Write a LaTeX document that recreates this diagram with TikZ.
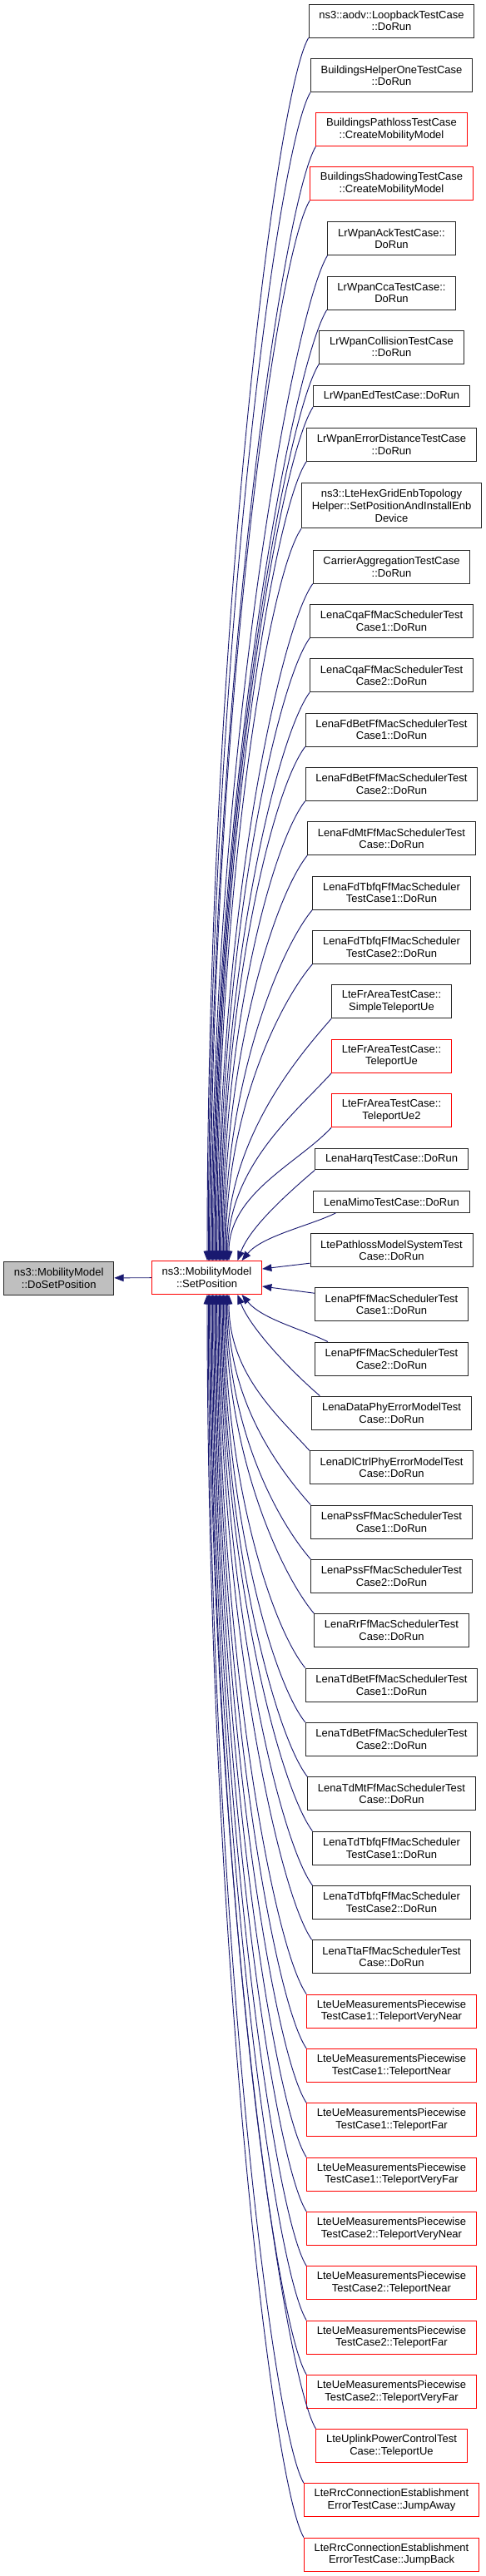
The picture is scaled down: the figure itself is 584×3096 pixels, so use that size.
\documentclass[tikz,border=0pt]{standalone}
\usepackage{fontspec}
\setmainfont{Liberation Sans}
\usetikzlibrary{arrows.meta,calc}
\definecolor{edgeblue}{HTML}{191970}
\definecolor{boxgray}{HTML}{BFBFBF}

\begin{document}
\begin{tikzpicture}[x=0.75pt,y=-0.75pt,
	fnbox/.style={draw=black!85,line width=0.7pt,fill=white,align=center,inner xsep=9.2pt,inner ysep=1pt,minimum height=30pt,font=\fontsize{9.75}{11}\selectfont},
	oneline/.style={minimum height=19.3pt},
	threeline/.style={minimum height=40.7pt},
	redbox/.style={draw=red},
	call/.style={draw=edgeblue,line width=0.7pt,-{Triangle[length=8.5pt,width=6.5pt]}}]
					\useasboundingbox (0,0) rectangle (584,3096);

					\node[fnbox,fill=boxgray] (dosetpos) at (70.7,1536) {ns3::MobilityModel\\::DoSetPosition};
					\node[fnbox,redbox] (setpos) at (248.5,1535.5) {ns3::MobilityModel\\::SetPosition};

					\node[fnbox] (loopback) at (470.5,25) {ns3::aodv::LoopbackTestCase\\::DoRun};
					\node[fnbox] (bhelperone) at (470.5,90.7) {BuildingsHelperOneTestCase\\::DoRun};
					\node[fnbox,redbox] (bpathloss) at (470.5,155.7) {BuildingsPathlossTestCase\\::CreateMobilityModel};
					\node[fnbox,redbox] (bshadowing) at (470.5,220.7) {BuildingsShadowingTestCase\\::CreateMobilityModel};
					\node[fnbox] (wpanack) at (470.5,286.7) {LrWpanAckTestCase::\\DoRun};
					\node[fnbox] (wpancca) at (470.5,352) {LrWpanCcaTestCase::\\DoRun};
					\node[fnbox] (wpancoll) at (470.5,417) {LrWpanCollisionTestCase\\::DoRun};
					\node[fnbox,oneline] (wpaned) at (470.5,476) {LrWpanEdTestCase::DoRun};
					\node[fnbox] (wpanerrdist) at (470.5,534.3) {LrWpanErrorDistanceTestCase\\::DoRun};
					\node[fnbox,threeline] (hexgrid) at (470.5,607.8) {ns3::LteHexGridEnbTopology\\Helper::SetPositionAndInstallEnb\\Device};
					\node[fnbox] (carrieragg) at (470.5,681.2) {CarrierAggregationTestCase\\::DoRun};
					\node[fnbox] (cqaone) at (470.5,746.5) {LenaCqaFfMacSchedulerTest\\Case1::DoRun};
					\node[fnbox] (cqatwo) at (470.5,811.7) {LenaCqaFfMacSchedulerTest\\Case2::DoRun};
					\node[fnbox] (fdbetone) at (470.5,877) {LenaFdBetFfMacSchedulerTest\\Case1::DoRun};
					\node[fnbox] (fdbettwo) at (470.5,942.3) {LenaFdBetFfMacSchedulerTest\\Case2::DoRun};
					\node[fnbox] (fdmt) at (470.5,1007.7) {LenaFdMtFfMacSchedulerTest\\Case::DoRun};
					\node[fnbox] (fdtbfqone) at (470.5,1073) {LenaFdTbfqFfMacScheduler\\TestCase1::DoRun};
					\node[fnbox] (fdtbfqtwo) at (470.5,1138.3) {LenaFdTbfqFfMacScheduler\\TestCase2::DoRun};
					\node[fnbox] (frsimple) at (470.5,1203.8) {LteFrAreaTestCase::\\SimpleTeleportUe};
					\node[fnbox,redbox] (frtele) at (470.5,1269.3) {LteFrAreaTestCase::\\TeleportUe};
					\node[fnbox,redbox] (frteletwo) at (470.5,1334.7) {LteFrAreaTestCase::\\TeleportUe2};
					\node[fnbox,oneline] (harq) at (470.5,1393) {LenaHarqTestCase::DoRun};
					\node[fnbox,oneline] (mimo) at (470.5,1444.5) {LenaMimoTestCase::DoRun};
					\node[fnbox] (pathloss) at (470.5,1502.7) {LtePathlossModelSystemTest\\Case::DoRun};
					\node[fnbox] (pfone) at (470.5,1567.7) {LenaPfFfMacSchedulerTest\\Case1::DoRun};
					\node[fnbox] (pftwo) at (470.5,1633) {LenaPfFfMacSchedulerTest\\Case2::DoRun};
					\node[fnbox] (dataphy) at (470.5,1698) {LenaDataPhyErrorModelTest\\Case::DoRun};
					\node[fnbox] (dlctrl) at (470.5,1763.7) {LenaDlCtrlPhyErrorModelTest\\Case::DoRun};
					\node[fnbox] (pssone) at (470.5,1829) {LenaPssFfMacSchedulerTest\\Case1::DoRun};
					\node[fnbox] (psstwo) at (470.5,1894.3) {LenaPssFfMacSchedulerTest\\Case2::DoRun};
					\node[fnbox] (rr) at (470.5,1959.5) {LenaRrFfMacSchedulerTest\\Case::DoRun};
					\node[fnbox] (tdbetone) at (470.5,2025) {LenaTdBetFfMacSchedulerTest\\Case1::DoRun};
					\node[fnbox] (tdbettwo) at (470.5,2090.3) {LenaTdBetFfMacSchedulerTest\\Case2::DoRun};
					\node[fnbox] (tdmt) at (470.5,2155.7) {LenaTdMtFfMacSchedulerTest\\Case::DoRun};
					\node[fnbox] (tdtbfqone) at (470.5,2221) {LenaTdTbfqFfMacScheduler\\TestCase1::DoRun};
					\node[fnbox] (tdtbfqtwo) at (470.5,2286.3) {LenaTdTbfqFfMacScheduler\\TestCase2::DoRun};
					\node[fnbox] (tta) at (470.5,2351.7) {LenaTtaFfMacSchedulerTest\\Case::DoRun};
					\node[fnbox,redbox] (ueoneverynear) at (470.5,2417) {LteUeMeasurementsPiecewise\\TestCase1::TeleportVeryNear};
					\node[fnbox,redbox] (ueonenear) at (470.5,2482.3) {LteUeMeasurementsPiecewise\\TestCase1::TeleportNear};
					\node[fnbox,redbox] (ueonefar) at (470.5,2547.7) {LteUeMeasurementsPiecewise\\TestCase1::TeleportFar};
					\node[fnbox,redbox] (ueoneveryfar) at (470.5,2613) {LteUeMeasurementsPiecewise\\TestCase1::TeleportVeryFar};
					\node[fnbox,redbox] (uetwoverynear) at (470.5,2678.3) {LteUeMeasurementsPiecewise\\TestCase2::TeleportVeryNear};
					\node[fnbox,redbox] (uetwonear) at (470.5,2743.7) {LteUeMeasurementsPiecewise\\TestCase2::TeleportNear};
					\node[fnbox,redbox] (uetwofar) at (470.5,2809) {LteUeMeasurementsPiecewise\\TestCase2::TeleportFar};
					\node[fnbox,redbox] (uetwoveryfar) at (470.5,2874.3) {LteUeMeasurementsPiecewise\\TestCase2::TeleportVeryFar};
					\node[fnbox,redbox] (ulpower) at (470.5,2939.3) {LteUplinkPowerControlTest\\Case::TeleportUe};
					\node[fnbox,redbox] (rrcaway) at (470.5,3004.7) {LteRrcConnectionEstablishment\\ErrorTestCase::JumpAway};
					\node[fnbox,redbox] (rrcback) at (470.5,3070) {LteRrcConnectionEstablishment\\ErrorTestCase::JumpBack};

					\draw[call] (setpos) -- (dosetpos);

					\draw[call] (loopback.south west) .. controls +(-40,69) and +(0,-736) .. ($(setpos.north)+(0.5,0)$);
					\draw[call] (bhelperone.south west) .. controls +(-40,68) and +(0,-703) .. ($(setpos.north)+(1.8,0)$);
					\draw[call] (bpathloss.south west) .. controls +(-40,67) and +(0,-670) .. ($(setpos.north)+(3.1,0)$);
					\draw[call] (bshadowing.south west) .. controls +(-40,66) and +(0,-638) .. ($(setpos.north)+(4.4,0)$);
					\draw[call] (wpanack.south west) .. controls +(-40,64) and +(0,-605) .. ($(setpos.north)+(5.7,0)$);
					\draw[call] (wpancca.south west) .. controls +(-40,63) and +(0,-572) .. ($(setpos.north)+(7,0)$);
					\draw[call] (wpancoll.south west) .. controls +(-40,62) and +(0,-540) .. ($(setpos.north)+(8.3,0)$);
					\draw[call] (wpaned.south west) .. controls +(-40,61) and +(0,-514) .. ($(setpos.north)+(9.6,0)$);
					\draw[call] (wpanerrdist.south west) .. controls +(-40,59) and +(0,-481) .. ($(setpos.north)+(10.9,0)$);
					\draw[call] (hexgrid.south west) .. controls +(-40,58) and +(0,-441) .. ($(setpos.north)+(12.2,0)$);
					\draw[call] (carrieragg.south west) .. controls +(-40,56) and +(0,-408) .. ($(setpos.north)+(13.5,0)$);
					\draw[call] (cqaone.south west) .. controls +(-40,55) and +(0,-375) .. ($(setpos.north)+(14.8,0)$);
					\draw[call] (cqatwo.south west) .. controls +(-40,54) and +(0,-342) .. ($(setpos.north)+(16.1,0)$);
					\draw[call] (fdbetone.south west) .. controls +(-40,52) and +(0,-310) .. ($(setpos.north)+(17.4,0)$);
					\draw[call] (fdbettwo.south west) .. controls +(-40,51) and +(0,-277) .. ($(setpos.north)+(18.7,0)$);
					\draw[call] (fdmt.south west) .. controls +(-40,50) and +(0,-244) .. ($(setpos.north)+(20,0)$);
					\draw[call] (fdtbfqone.south west) .. controls +(-40,48) and +(0,-212) .. ($(setpos.north)+(21.3,0)$);
					\draw[call] (fdtbfqtwo.south west) .. controls +(-40,47) and +(0,-179) .. ($(setpos.north)+(22.6,0)$);
					\draw[call] (frsimple.south west) .. controls +(-40,46) and +(0,-146) .. ($(setpos.north)+(23.9,0)$);
					\draw[call] (frtele.south west) .. controls +(-40,45) and +(0,-114) .. ($(setpos.north)+(25.2,0)$);
					\draw[call] (frteletwo.south west) .. controls +(-40,43) and +(0,-81) .. ($(setpos.north)+(26.5,0)$);
					\draw[call] (harq.south west) .. controls +(-35,30) and +(15,-40) .. ($(setpos.north)+(37,0)$);
					\draw[call] ($(mimo.south west)+(27,0)$) .. controls +(-30,15) and +(25,-30) .. ($(setpos.north)+(42,0)$);

					\draw[call] ($(pathloss.south west)+(0,-5)$) -- ($(setpos.east)+(0,-10.5)$);
					\draw[call] ($(pfone.north west)+(0,7)$) -- ($(setpos.east)+(0,10.5)$);

					\draw[call] ($(pftwo.north west)+(16,0)$) .. controls +(-30,-15) and +(25,30) .. ($(setpos.south)+(42,0)$);
					\draw[call] ($(dataphy.north west)+(10,0)$) .. controls +(-35,-30) and +(15,40) .. ($(setpos.south)+(37,0)$);
					\draw[call] (dlctrl.north west) .. controls +(-40,-44) and +(0,94) .. ($(setpos.south)+(26.5,0)$);
					\draw[call] (pssone.north west) .. controls +(-40,-45) and +(0,127) .. ($(setpos.south)+(25.2,0)$);
					\draw[call] (psstwo.north west) .. controls +(-40,-46) and +(0,160) .. ($(setpos.south)+(23.9,0)$);
					\draw[call] (rr.north west) .. controls +(-40,-48) and +(0,192) .. ($(setpos.south)+(22.6,0)$);
					\draw[call] (tdbetone.north west) .. controls +(-40,-49) and +(0,225) .. ($(setpos.south)+(21.3,0)$);
					\draw[call] (tdbettwo.north west) .. controls +(-40,-50) and +(0,258) .. ($(setpos.south)+(20,0)$);
					\draw[call] (tdmt.north west) .. controls +(-40,-52) and +(0,290) .. ($(setpos.south)+(18.7,0)$);
					\draw[call] (tdtbfqone.north west) .. controls +(-40,-53) and +(0,323) .. ($(setpos.south)+(17.4,0)$);
					\draw[call] (tdtbfqtwo.north west) .. controls +(-40,-54) and +(0,356) .. ($(setpos.south)+(16.1,0)$);
					\draw[call] (tta.north west) .. controls +(-40,-56) and +(0,388) .. ($(setpos.south)+(14.8,0)$);
					\draw[call] (ueoneverynear.north west) .. controls +(-40,-57) and +(0,421) .. ($(setpos.south)+(13.5,0)$);
					\draw[call] (ueonenear.north west) .. controls +(-40,-58) and +(0,454) .. ($(setpos.south)+(12.2,0)$);
					\draw[call] (ueonefar.north west) .. controls +(-40,-59) and +(0,486) .. ($(setpos.south)+(10.9,0)$);
					\draw[call] (ueoneveryfar.north west) .. controls +(-40,-61) and +(0,519) .. ($(setpos.south)+(9.6,0)$);
					\draw[call] (uetwoverynear.north west) .. controls +(-40,-62) and +(0,552) .. ($(setpos.south)+(8.3,0)$);
					\draw[call] (uetwonear.north west) .. controls +(-40,-63) and +(0,584) .. ($(setpos.south)+(7,0)$);
					\draw[call] (uetwofar.north west) .. controls +(-40,-65) and +(0,617) .. ($(setpos.south)+(5.7,0)$);
					\draw[call] (uetwoveryfar.north west) .. controls +(-40,-66) and +(0,650) .. ($(setpos.south)+(4.4,0)$);
					\draw[call] (ulpower.north west) .. controls +(-40,-67) and +(0,682) .. ($(setpos.south)+(3.1,0)$);
					\draw[call] (rrcaway.north west) .. controls +(-40,-69) and +(0,715) .. ($(setpos.south)+(1.8,0)$);
					\draw[call] (rrcback.north west) .. controls +(-40,-70) and +(0,748) .. ($(setpos.south)+(0.5,0)$);
\end{tikzpicture}
\end{document}
